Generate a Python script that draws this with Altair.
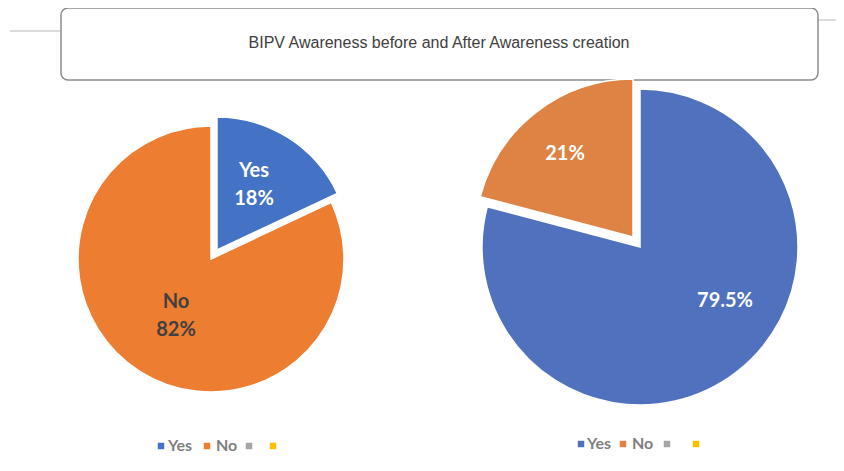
import altair as alt
import pandas as pd

# ---- data ----
TITLE = "BIPV Awareness before and After Awareness creation"
categories = ["Yes", "No"]
before_values = [18, 82]
after_values = [79.5, 21]
before_labels = ["Yes\n18%", "No\n82%"]
after_labels = ["79.5%", "21%"]
legend_labels = ["Yes", "No", "", ""]

# ---- styles / layout ----
before_colors = ["#4472C4", "#ED7D31"]
after_colors = ["#4F71BE", "#DE8344"]
legend_colors_before = ["#4472C4", "#ED7D31", "#A5A5A5", "#FFC000"]
legend_colors_after = ["#4F71BE", "#DE8344", "#A5A5A5", "#FFC000"]
FONT = "Lato"


def pie(values, colors, cx, cy, r, explode_idx, dx, dy):
    df = pd.DataFrame({"cat": categories, "val": values, "idx": list(range(len(values)))})
    base = alt.Chart(df)
    enc = dict(
        theta=alt.Theta("val:Q", stack=True),
        order=alt.Order("idx:Q"),
        color=alt.Color("cat:N", scale=alt.Scale(domain=categories, range=colors), legend=None),
        x=alt.value(cx),
        y=alt.value(cy),
    )
    main = base.mark_arc(radius=r, stroke="white", strokeWidth=1.5).encode(
        opacity=alt.condition(alt.datum.idx == explode_idx, alt.value(0), alt.value(1)), **enc
    )
    exp = base.mark_arc(radius=r, stroke="white", strokeWidth=1.5, xOffset=dx, yOffset=dy).encode(
        opacity=alt.condition(alt.datum.idx == explode_idx, alt.value(1), alt.value(0)), **enc
    )
    return alt.layer(main, exp)


def label(text, x, y, color):
    return alt.Chart(pd.DataFrame({"t": [text]})).mark_text(
        font=FONT, fontSize=20, fontWeight="bold", color=color, lineBreak="\n",
        lineHeight=28, align="center", baseline="middle",
    ).encode(text="t:N", x=alt.value(x), y=alt.value(y))


def legend(labels, colors, sq_x, txt_x, y):
    df = pd.DataFrame({"lab": labels, "col": colors, "sx": sq_x})
    sq = alt.Chart(df).mark_square(size=42, opacity=1).encode(
        x=alt.X("sx:Q", scale=None), y=alt.value(y), color=alt.Color("col:N", scale=None)
    )
    tdf = pd.DataFrame({"lab": [l for l in labels if l], "tx": txt_x})
    tx = alt.Chart(tdf).mark_text(
        font=FONT, fontSize=16, fontWeight="bold", color="#7F7F7F", align="left", baseline="middle"
    ).encode(x=alt.X("tx:Q", scale=None), y=alt.value(y), text="lab:N")
    return alt.layer(sq, tx)


title_box = alt.Chart(pd.DataFrame({"a": [0]})).mark_rect(
    fill="white", stroke="#8C8C8C", strokeWidth=1.5, cornerRadius=7
).encode(x=alt.value(53), x2=alt.value(810), y=alt.value(0), y2=alt.value(72))

line_left = alt.Chart(pd.DataFrame({"a": [0]})).mark_rule(color="#D0D0D0", strokeWidth=1.5).encode(
    x=alt.value(2), x2=alt.value(53), y=alt.value(23)
)
line_right = alt.Chart(pd.DataFrame({"a": [0]})).mark_rule(color="#D0D0D0", strokeWidth=1.5).encode(
    x=alt.value(810), x2=alt.value(836), y=alt.value(12)
)

title_text = alt.Chart(pd.DataFrame({"t": [TITLE]})).mark_text(
    font="Liberation Sans", fontSize=16, color="#404040", align="center", baseline="middle"
).encode(text="t:N", x=alt.value(431), y=alt.value(35))

pie_before = pie(before_values, before_colors, 203, 251, 133, 0, 6, -9)
pie_after = pie(after_values, after_colors, 632, 239, 158, 1, -7, -10)

chart = alt.layer(
    line_left,
    line_right,
    title_box,
    title_text,
    pie_before,
    pie_after,
    label(before_labels[0], 246, 163, "white"),
    label(before_labels[1], 168, 294, "#404040"),
    label(after_labels[0], 717, 293, "white"),
    label(after_labels[1], 557, 146, "white"),
    legend(legend_labels, legend_colors_before, [153, 199, 241, 265], [160, 208], 438),
    legend(legend_labels, legend_colors_after, [573, 615, 659, 688], [579, 624], 436),
).resolve_scale(theta="independent", color="independent").properties(
    width=828, height=455, padding=0, autosize="none", background="white"
).configure_view(stroke=None)

chart.save("out.html", embed_options={"renderer": "svg", "actions": False})
